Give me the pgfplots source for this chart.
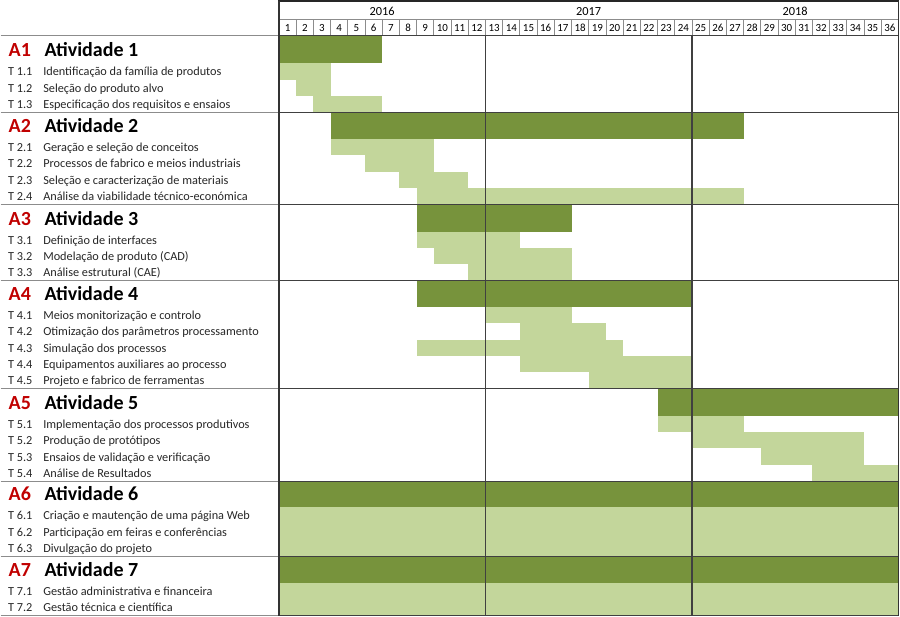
\documentclass[border=0pt]{standalone}
\usepackage{fontspec}
\setmainfont{Carlito}
\usepackage{pgfplots}
\pgfplotsset{compat=1.18}
\definecolor{actdark}{HTML}{77933C}
\definecolor{tasklight}{HTML}{C3D69B}
\definecolor{actred}{HTML}{C00000}
\definecolor{rulegray}{HTML}{8C8C8C}

% label rows: y = baseline in pixel rows (y axis runs downwards)
\newcommand{\act}[2]{%
  \node[anchor=base west, font=\fontsize{15}{15}\selectfont\bfseries, text=actred] at (axis cs:-15.98,#1) {A#2};
  \node[anchor=base west, font=\fontsize{15}{15}\selectfont\bfseries] at (axis cs:-13.89,#1) {Atividade #2};}
\newcommand{\task}[3]{%
  \node[anchor=base west, font=\fontsize{9.2}{9.2}\selectfont, text=black!85] at (axis cs:-16.01,#1) {T #2};
  \node[anchor=base west, font=\fontsize{9.2}{9.2}\selectfont, text=black!85] at (axis cs:-13.97,#1) {#3};}

\begin{document}
\begin{tikzpicture}
\begin{axis}[
    scale only axis,
    width=675pt, height=462.75pt,
    xmin=-16.18, xmax=36.11,
    ymin=0, ymax=617, y dir=reverse,
    axis lines=none,
    clip=false,
]
% ---- bars: x = month offset (start-1) to end month, y = row top/bottom
% A1
\addplot[fill=actdark, draw=none] coordinates {(0,36) (6,36) (6,63) (0,63)} -- cycle;
\addplot[fill=tasklight, draw=none] coordinates {(0,63) (3,63) (3,79.3) (0,79.3)} -- cycle;
\addplot[fill=tasklight, draw=none] coordinates {(1,79.3) (3,79.3) (3,95.7) (1,95.7)} -- cycle;
\addplot[fill=tasklight, draw=none] coordinates {(2,95.7) (6,95.7) (6,112) (2,112)} -- cycle;
% A2
\addplot[fill=actdark, draw=none] coordinates {(3,112) (27,112) (27,139) (3,139)} -- cycle;
\addplot[fill=tasklight, draw=none] coordinates {(3,139) (9,139) (9,155.25) (3,155.25)} -- cycle;
\addplot[fill=tasklight, draw=none] coordinates {(5,155.25) (9,155.25) (9,171.5) (5,171.5)} -- cycle;
\addplot[fill=tasklight, draw=none] coordinates {(7,171.5) (11,171.5) (11,187.75) (7,187.75)} -- cycle;
\addplot[fill=tasklight, draw=none] coordinates {(8,187.75) (27,187.75) (27,204) (8,204)} -- cycle;
% A3
\addplot[fill=actdark, draw=none] coordinates {(8,204) (17,204) (17,231.5) (8,231.5)} -- cycle;
\addplot[fill=tasklight, draw=none] coordinates {(8,231.5) (14,231.5) (14,247.7) (8,247.7)} -- cycle;
\addplot[fill=tasklight, draw=none] coordinates {(9,247.7) (17,247.7) (17,263.8) (9,263.8)} -- cycle;
\addplot[fill=tasklight, draw=none] coordinates {(11,263.8) (17,263.8) (17,280) (11,280)} -- cycle;
% A4
\addplot[fill=actdark, draw=none] coordinates {(8,280) (24,280) (24,307) (8,307)} -- cycle;
\addplot[fill=tasklight, draw=none] coordinates {(12,307) (17,307) (17,323.2) (12,323.2)} -- cycle;
\addplot[fill=tasklight, draw=none] coordinates {(14,323.2) (19,323.2) (19,339.4) (14,339.4)} -- cycle;
\addplot[fill=tasklight, draw=none] coordinates {(8,339.4) (20,339.4) (20,355.6) (8,355.6)} -- cycle;
\addplot[fill=tasklight, draw=none] coordinates {(14,355.6) (24,355.6) (24,371.8) (14,371.8)} -- cycle;
\addplot[fill=tasklight, draw=none] coordinates {(18,371.8) (24,371.8) (24,388) (18,388)} -- cycle;
% A5
\addplot[fill=actdark, draw=none] coordinates {(22,388) (36,388) (36,415.5) (22,415.5)} -- cycle;
\addplot[fill=tasklight, draw=none] coordinates {(22,415.5) (27,415.5) (27,431.9) (22,431.9)} -- cycle;
\addplot[fill=tasklight, draw=none] coordinates {(24,431.9) (34,431.9) (34,448.3) (24,448.3)} -- cycle;
\addplot[fill=tasklight, draw=none] coordinates {(28,448.3) (34,448.3) (34,464.6) (28,464.6)} -- cycle;
\addplot[fill=tasklight, draw=none] coordinates {(31,464.6) (36,464.6) (36,481) (31,481)} -- cycle;
% A6
\addplot[fill=actdark, draw=none] coordinates {(0,481) (36,481) (36,507) (0,507)} -- cycle;
\addplot[fill=tasklight, draw=none] coordinates {(0,507) (36,507) (36,556) (0,556)} -- cycle;
% A7
\addplot[fill=actdark, draw=none] coordinates {(0,556) (36,556) (36,583) (0,583)} -- cycle;
\addplot[fill=tasklight, draw=none] coordinates {(0,583) (36,583) (36,615.5) (0,615.5)} -- cycle;

% ---- header grid
\draw[rulegray, line width=0.7pt] (axis cs:0,19) -- (axis cs:36,19);
\pgfplotsinvokeforeach{1,...,35}{
  \draw[rulegray, line width=0.6pt] (axis cs:#1,19) -- (axis cs:#1,35.5);
}
\pgfplotsinvokeforeach{1,...,36}{
  \node[anchor=base, xshift=-6.45pt, font=\fontsize{8.2}{8.2}\selectfont] at (axis cs:#1,31.3) {#1};
}
\node[anchor=base, font=\fontsize{9.25}{9.25}\selectfont] at (axis cs:6,14.8) {2016};
\node[anchor=base, font=\fontsize{9.25}{9.25}\selectfont] at (axis cs:18,14.8) {2017};
\node[anchor=base, font=\fontsize{9.25}{9.25}\selectfont] at (axis cs:30,14.8) {2018};

% ---- block borders (label area lighter)
\foreach \yy in {35.5,112,204,280,388,481,556,615.5}{
  \edef\tmp{\noexpand\draw[rulegray, line width=0.8pt] (axis cs:-16.18,\yy) -- (axis cs:0,\yy);
            \noexpand\draw[black!75, line width=0.9pt] (axis cs:0,\yy) -- (axis cs:36,\yy);}
  \tmp
}
\draw[black!75, line width=0.9pt] (axis cs:12,35.5) -- (axis cs:12,615.5);
\draw[black!75, line width=0.9pt] (axis cs:24,35.5) -- (axis cs:24,615.5);
\draw[black!85, line width=1.5pt] (axis cs:-0.03,1.2) -- (axis cs:36.03,1.2);
\draw[black!80, line width=1.1pt] (axis cs:0,0.5) -- (axis cs:0,615.5);
\draw[black!80, line width=1.1pt] (axis cs:36,0.5) -- (axis cs:36,615.5);

% ---- labels
\act{56.7}{1}
\task{75.6}{1.1}{Identificação da família de produtos}
\task{92}{1.2}{Seleção do produto alvo}
\task{108.3}{1.3}{Especificação dos requisitos e ensaios}
\act{132.7}{2}
\task{151.55}{2.1}{Geração e seleção de conceitos}
\task{167.8}{2.2}{Processos de fabrico e meios industriais}
\task{184.05}{2.3}{Seleção e caracterização de materiais}
\task{200.3}{2.4}{Análise da viabilidade técnico-económica}
\act{225.2}{3}
\task{244}{3.1}{Definição de interfaces}
\task{260.1}{3.2}{Modelação de produto (CAD)}
\task{276.3}{3.3}{Análise estrutural (CAE)}
\act{300.7}{4}
\task{319.5}{4.1}{Meios monitorização e controlo}
\task{335.7}{4.2}{Otimização dos parâmetros processamento}
\task{351.9}{4.3}{Simulação dos processos}
\task{368.1}{4.4}{Equipamentos auxiliares ao processo}
\task{384.3}{4.5}{Projeto e fabrico de ferramentas}
\act{409.2}{5}
\task{428.2}{5.1}{Implementação dos processos produtivos}
\task{444.6}{5.2}{Produção de protótipos}
\task{460.9}{5.3}{Ensaios de validação e verificação}
\task{477.3}{5.4}{Análise de Resultados}
\act{500.7}{6}
\task{519.6}{6.1}{Criação e mautenção de uma página Web}
\task{536}{6.2}{Participação em feiras e conferências}
\task{552.3}{6.3}{Divulgação do projeto}
\act{576.7}{7}
\task{595.3}{7.1}{Gestão administrativa e financeira}
\task{611.3}{7.2}{Gestão técnica e científica}
\end{axis}
\end{tikzpicture}
\end{document}
